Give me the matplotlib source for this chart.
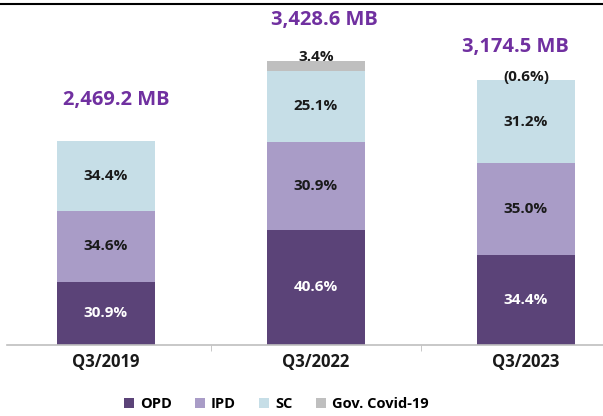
import numpy as np
import matplotlib.pyplot as plt
from matplotlib.lines import Line2D
from matplotlib.patches import Patch

plt.rcParams['font.family'] = ['Open Sans', 'DejaVu Sans']

# datos del gráfico
periods = ['Q3/2019', 'Q3/2022', 'Q3/2023']
totals = [2469.2, 3428.6, 3174.5]
total_labels = ['2,469.2 MB', '3,428.6 MB', '3,174.5 MB']
series = ['OPD', 'IPD', 'SC', 'Gov. Covid-19']
opd = [30.9, 40.6, 34.4]
ipd = [34.6, 30.9, 35.0]
sc = [34.4, 25.1, 31.2]
gov = [0.0, 3.4, -0.6]
gov_labels = ['', '3.4%', '(0.6%)']

colors = ['#5B4378', '#A99CC7', '#C6DEE7', '#BFBFBF']
text_colors = ['white', '#1A1A1A', '#1A1A1A']

fig = plt.figure(figsize=(6.03, 4.16), dpi=100)
ax = fig.add_axes([7 / 603, 71 / 416, 596 / 603, 340 / 416])

x = np.arange(len(periods))
width = 0.467
bottom = np.zeros(len(periods))
for vals, col, tcol in zip([opd, ipd, sc], colors[:3], text_colors):
    seg = np.array(vals) * np.array(totals) / 100
    ax.bar(x, seg, width, bottom=bottom, color=col, zorder=2)
    for xi, b, s, v in zip(x, bottom, seg, vals):
        ax.text(xi, b + s / 2, f'{v:.1f}%', ha='center', va='center',
                fontsize=11, fontweight='bold', color=tcol)
    bottom = bottom + seg

# segmento Gov. Covid-19 (solo valores positivos)
gseg = np.clip(np.array(gov), 0, None) * np.array(totals) / 100
ax.bar(x, gseg, width, bottom=bottom, color=colors[3], zorder=2)
tops = bottom + gseg
for xi, t, lab in zip(x, tops, gov_labels):
    if lab:
        ax.annotate(lab, (xi, t), xytext=(0, -2.5), textcoords='offset points',
                    ha='center', va='bottom', fontsize=11, fontweight='bold',
                    color='#1A1A1A', zorder=3)

# totales
offsets = [(0.05, 22), (0.04, 22), (-0.05, 17)]
for xi, t, lab, (dx, dy) in zip(x, tops, total_labels, offsets):
    ax.annotate(lab, (xi + dx, t), xytext=(0, dy), textcoords='offset points',
                ha='center', va='bottom', fontsize=14.5, fontweight='bold',
                color='#7030A0')

ax.set_xlim(-0.471, 2.367)
ax.set_ylim(0, 4105)
for s in ['top', 'right', 'left']:
    ax.spines[s].set_visible(False)
ax.spines['bottom'].set_color('#BFBFBF')
ax.spines['bottom'].set_linewidth(1.2)
ax.set_yticks([])
ax.set_xticks(x)
ax.set_xticklabels(periods, fontsize=12, fontweight='bold', color='#1A1A1A')
ax.tick_params(axis='x', which='major', length=0, pad=6)
ax.set_xticks([0.5, 1.5], minor=True)
ax.tick_params(axis='x', which='minor', length=4, color='#BFBFBF')

handles = [Patch(facecolor=c, edgecolor='none') for c in colors]
fig.legend(handles, series, loc='center', bbox_to_anchor=(0.458, 1 - 404 / 416),
           ncol=4, frameon=False, prop={'weight': 'bold', 'size': 10.5},
           handlelength=0.7, handleheight=0.7, handletextpad=0.4,
           columnspacing=1.6)

fig.add_artist(Line2D([0, 1], [1 - 4 / 416, 1 - 4 / 416], color='black', lw=1.5))

fig.savefig('out.png', dpi=100)
